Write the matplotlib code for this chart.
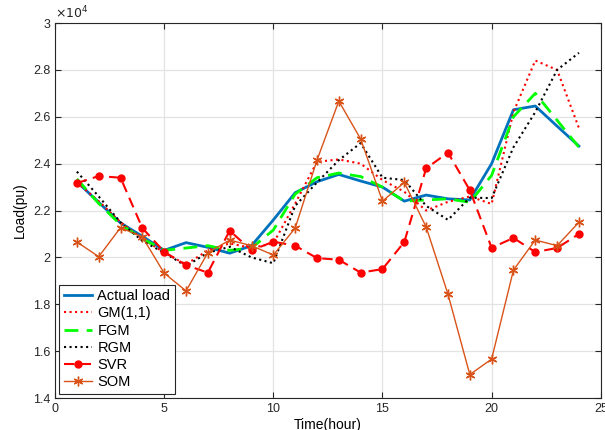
import matplotlib
matplotlib.use('Agg')
import matplotlib.pyplot as plt

plt.rcParams['font.family'] = ['Liberation Sans', 'DejaVu Sans']

hours = list(range(1, 25))

actual = [2.323, 2.235, 2.147, 2.09, 2.03, 2.063, 2.043, 2.018, 2.05, 2.16, 2.276, 2.323,
          2.354, 2.326, 2.30, 2.24, 2.266, 2.25, 2.245, 2.40, 2.63, 2.646, 2.56, 2.475]
gm = [2.32, 2.24, 2.15, 2.08, 2.02, 1.97, 2.03, 2.06, 2.04, 2.06, 2.23, 2.408,
      2.418, 2.40, 2.33, 2.28, 2.20, 2.237, 2.26, 2.228, 2.62, 2.84, 2.80, 2.552]
fgm = [2.335, 2.23, 2.14, 2.08, 2.03, 2.04, 2.05, 2.03, 2.04, 2.117, 2.27, 2.34,
       2.36, 2.345, 2.30, 2.24, 2.245, 2.25, 2.235, 2.35, 2.60, 2.70, 2.585, 2.47]
rgm = [2.366, 2.26, 2.15, 2.07, 2.02, 1.963, 2.02, 2.045, 2.00, 1.975, 2.22, 2.32,
       2.415, 2.488, 2.34, 2.33, 2.22, 2.16, 2.255, 2.253, 2.47, 2.62, 2.80, 2.873]
svr = [2.317, 2.347, 2.34, 2.125, 2.024, 1.967, 1.935, 2.114, 2.03, 2.067, 2.05, 1.997,
       1.99, 1.935, 1.95, 2.066, 2.38, 2.447, 2.287, 2.041, 2.083, 2.023, 2.04, 2.10]
som = [2.066, 2.003, 2.127, 2.087, 1.933, 1.857, 2.02, 2.074, 2.05, 2.01, 2.125, 2.415,
       2.667, 2.505, 2.24, 2.32, 2.13, 1.843, 1.50, 1.566, 1.946, 2.074, 2.05, 2.15]

scale = 1e4
def sc(v):
    return [x * scale for x in v]

fig = plt.figure(figsize=(6.05, 4.30), dpi=100)
ax = fig.add_axes([0.091, 0.0744, 0.902, 0.872])

ax.plot(hours, sc(actual), color='#0072BD', lw=2, label='Actual load')
ax.plot(hours, sc(gm), color='red', ls=':', lw=1.5, label='GM(1,1)')
ax.plot(hours, sc(fgm), color='#00FF00', ls='--', lw=2, dashes=(5, 3), label='FGM')
ax.plot(hours, sc(rgm), color='black', ls=':', lw=1.5, label='RGM')
ax.plot(hours, sc(svr), color='red', ls='--', lw=1.5, dashes=(5, 3), marker='o', ms=5,
        label='SVR')
ax.plot(hours, sc(som), color='#D95319', lw=1, marker=(6, 2, 0), ms=7, mew=1,
        label='SOM')

ax.set_xlim(0, 25)
ax.set_ylim(14000, 30000)
ax.set_xticks([0, 5, 10, 15, 20, 25])
yt = [14000, 16000, 18000, 20000, 22000, 24000, 26000, 28000, 30000]
ax.set_yticks(yt)
ax.set_yticklabels(['1.4', '1.6', '1.8', '2', '2.2', '2.4', '2.6', '2.8', '3'])
ax.tick_params(direction='in', labelsize=9, colors='#262626', top=True, right=True,
               length=4)
ax.grid(True, color='#e3e3e3', lw=0.9)
ax.set_axisbelow(True)
for s in ax.spines.values():
    s.set_color('#262626')
    s.set_linewidth(0.8)

ax.text(0.0, 1.005, r'$\times 10^4$', transform=ax.transAxes, fontsize=9,
        color='#262626', va='bottom', ha='left')
ax.set_xlabel('Time(hour)', fontsize=10, labelpad=2)
ax.set_ylabel('Load(pu)', fontsize=10, labelpad=4)

leg = ax.legend(loc='lower left', fontsize=10.5, fancybox=False, framealpha=1,
                edgecolor='#262626', borderpad=0.3, labelspacing=0.22,
                handlelength=1.9, handletextpad=0.4, borderaxespad=0.3)
leg.get_frame().set_linewidth(0.8)

fig.savefig('out.png', dpi=100)
